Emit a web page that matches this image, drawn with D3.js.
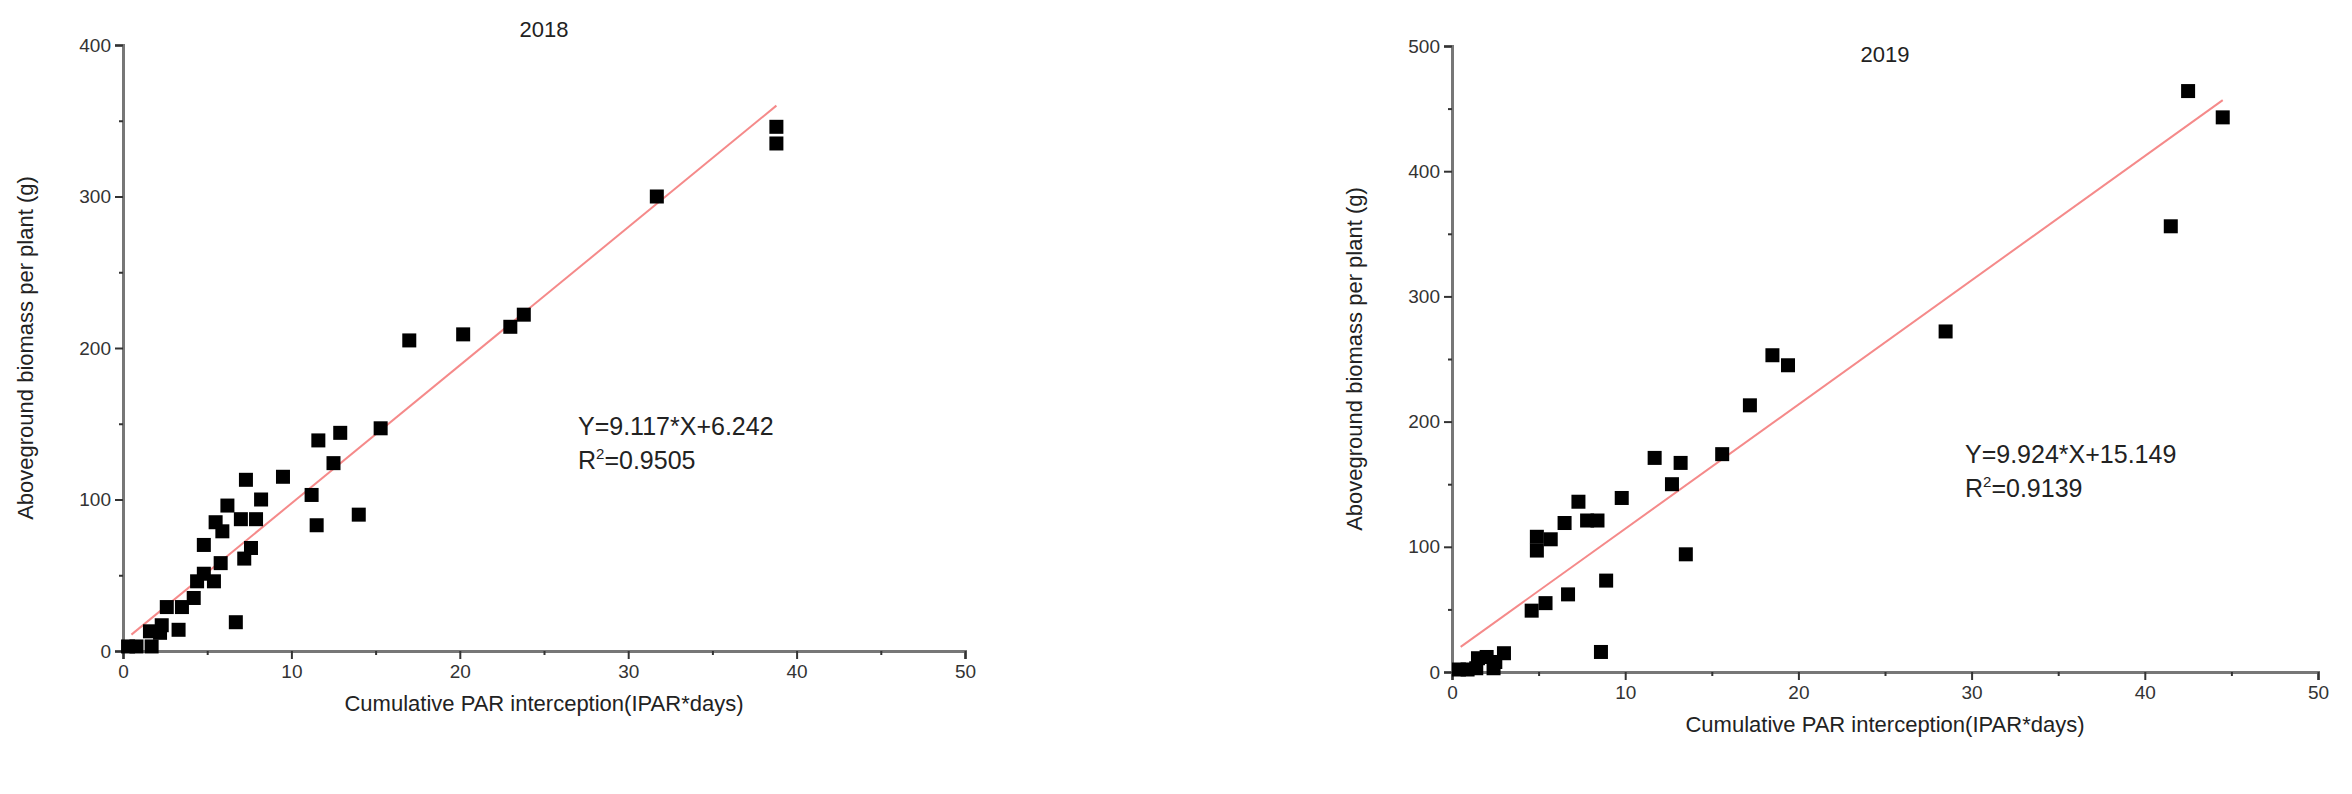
<!DOCTYPE html>
<html><head><meta charset="utf-8">
<script src="https://cdn.jsdelivr.net/npm/d3@7"></script>
<style>body{margin:0;background:#fff}svg{font-family:"Liberation Sans",Arial,sans-serif}</style>
</head><body><svg id="c" width="2352" height="794"></svg>
<script>
// 2018 data
var x2018 = [0.3,0.8,1.7,1.6,2.2,2.3,3.3,2.6,3.5,4.2,4.4,4.8,5.4,5.8,4.8,7.2,7.6,6.7,5.5,5.9,6.2,7.0,7.9,8.2,7.3,9.5,11.2,11.5,12.5,14,11.6,12.9,15.3,17,20.2,23,23.8,31.7,38.8,38.8];
var y2018 = [3,3,3,13,12,17,14,29,29,35,46,51,46,58,70,61,68,19,85,79,96,87,87,100,113,115,103,83,124,90,139,144,147,205,209,214,222,300,335,346];
// 2019 data
var x2019 = [0.4,0.9,1.4,1.5,2.0,2.4,2.5,3.0,4.6,5.4,6.7,8.9,8.6,4.9,4.9,5.7,6.5,7.3,7.8,8.4,9.8,11.7,13.2,12.7,15.6,13.5,17.2,18.5,19.4,28.5,41.5,42.5,44.5];
var y2019 = [2,2,3,11,12,3,8,15,49,55,62,73,16,97,108,106,119,136,121,121,139,171,167,150,174,94,213,253,245,272,356,464,443];
var xTicks = [0,10,20,30,40,50];

var svg = d3.select('#c');

function panel(o) {
  var g = svg.append('g');
  var x = d3.scaleLinear().domain([0,50]).range([o.l,o.r]);
  var y = d3.scaleLinear().domain([0,o.ymax]).range([o.b,o.t]);
  var col = '#777';
  g.append('g').attr('transform','translate(0,'+o.b+')')
    .call(d3.axisBottom(x).tickValues(xTicks).tickSize(8).tickPadding(6));
  g.append('g').attr('transform','translate('+o.l+',0)')
    .call(d3.axisLeft(y).tickValues(o.yTicks).tickSize(8).tickPadding(4));
  // minor ticks
  g.append('g').attr('transform','translate(0,'+o.b+')')
    .call(d3.axisBottom(x).tickValues(d3.range(5,50,10)).tickSize(4).tickFormat(''))
    .select('.domain').remove();
  g.append('g').attr('transform','translate('+o.l+',0)')
    .call(d3.axisLeft(y).tickValues(o.yTicks.slice(0,-1).map(function(v){return v+o.step/2;})).tickSize(4).tickFormat(''))
    .select('.domain').remove();
  g.selectAll('.domain').attr('stroke',col).attr('stroke-width',3);
  g.selectAll('.tick line').attr('stroke','#333').attr('stroke-width',2);
  g.selectAll('.tick text').attr('font-size',19).attr('fill','#333');

  var ex = d3.extent(o.xs);
  g.append('line').attr('x1',x(0.5)).attr('y1',y(o.a*0.5+o.c))
    .attr('x2',x(ex[1])).attr('y2',y(o.a*ex[1]+o.c))
    .attr('stroke','#f58a8a').attr('stroke-width',2);

  g.selectAll('rect.p').data(o.xs).enter().append('rect')
    .attr('x',function(d){return x(d)-7;})
    .attr('y',function(d,i){return y(o.ys[i])-7;})
    .attr('width',14).attr('height',14).attr('fill','#000');

  g.append('text').attr('x',(o.l+o.r)/2).attr('y',o.titleY).attr('text-anchor','middle')
    .attr('font-size',22).attr('fill','#222').text(o.title);
  g.append('text').attr('x',(o.l+o.r)/2).attr('y',o.b+60).attr('text-anchor','middle')
    .attr('font-size',22).attr('fill','#222').text('Cumulative PAR interception(IPAR*days)');
  g.append('text').attr('transform','translate('+(o.l-90)+','+((o.t+o.b)/2)+') rotate(-90)')
    .attr('text-anchor','middle').attr('font-size',22).attr('fill','#222').text('Aboveground biomass per plant (g)');
  g.append('text').attr('x',o.eqX).attr('y',o.eqY).attr('font-size',25).attr('fill','#222').text(o.eq);
  var r2 = g.append('text').attr('x',o.eqX).attr('y',o.eqY+34).attr('font-size',25).attr('fill','#222');
  r2.append('tspan').text('R');
  r2.append('tspan').attr('font-size',15).attr('dy',-10).text('2');
  r2.append('tspan').attr('dy',10).text('=' + o.r2);
}

panel({l:123,r:965,t:45,b:651,ymax:400,yTicks:[0,100,200,300,400],step:100,xs:x2018,ys:y2018,
  a:9.117,c:6.242,title:'2018',titleY:37,eq:'Y=9.117*X+6.242',r2:'0.9505',eqX:578,eqY:435});
panel({l:1452,r:2318,t:46,b:672,ymax:500,yTicks:[0,100,200,300,400,500],step:100,xs:x2019,ys:y2019,
  a:9.924,c:15.149,title:'2019',titleY:62,eq:'Y=9.924*X+15.149',r2:'0.9139',eqX:1965,eqY:463});
</script></body></html>
